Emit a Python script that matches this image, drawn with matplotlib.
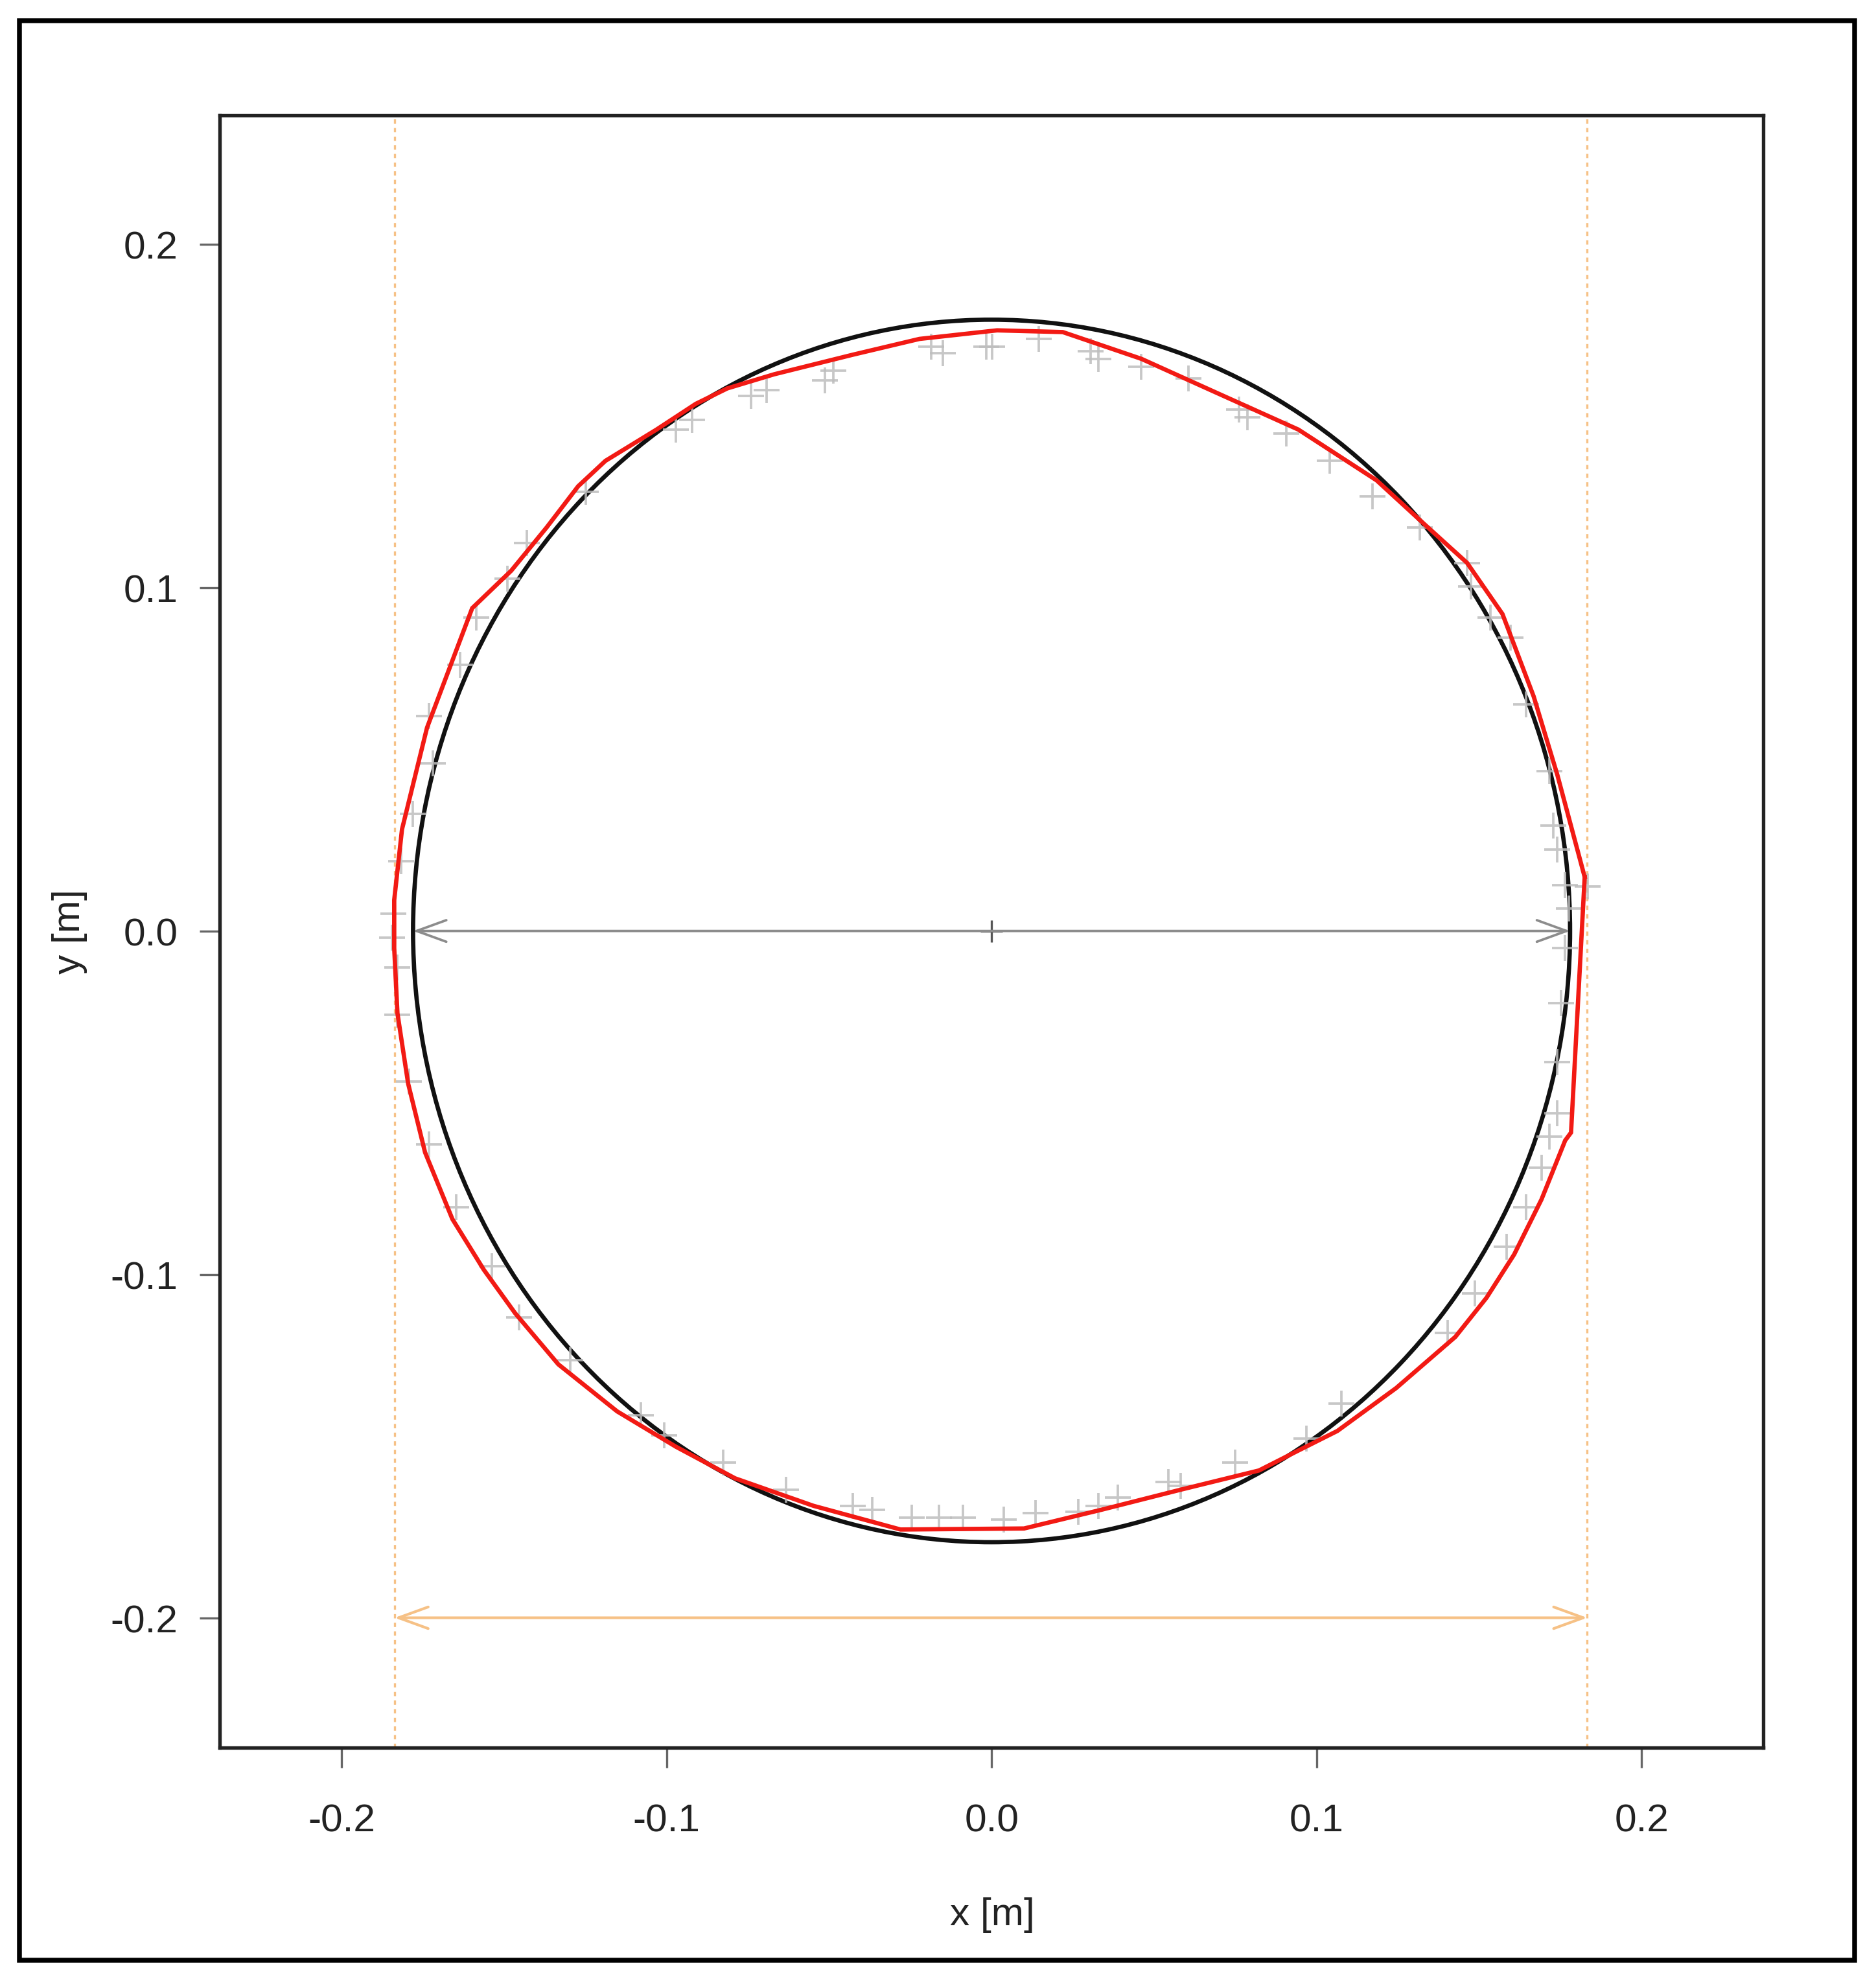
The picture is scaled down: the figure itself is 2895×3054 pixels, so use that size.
import matplotlib.pyplot as plt
import numpy as np
from matplotlib.patches import Circle, Rectangle

plt.rcParams['font.family'] = ['Liberation Sans', 'DejaVu Sans']

# measured points (gray crosses)
pts_x = [-0.0017, -0.0186, -0.0149, -0.0487, -0.0512, -0.0693, -0.0741, -0.0922, -0.0971,
         -0.1248, -0.1429, -0.1490, -0.1586, -0.1635, -0.1731, -0.1719, -0.1780, -0.1816,
         -0.1840, -0.1845,
         0.0002, 0.0146, 0.0304, 0.0328, 0.0461, 0.0606, 0.0762, 0.0787, 0.0907, 0.1040,
         0.1173, 0.1318, 0.1463, 0.1475, 0.1535, 0.1596, 0.1644, 0.1717, 0.1729, 0.1741,
         0.1765, 0.1777, 0.1835,
         0.1765, 0.1753, 0.1741, 0.1741, 0.1717, 0.1692, 0.1644, 0.1584, 0.1487, 0.1403,
         0.1076, 0.0968, 0.0750, 0.0581, 0.0545, 0.0388, 0.0328, 0.0267, 0.0135, 0.0038,
         -0.1828, -0.1828, -0.1792, -0.1731, -0.1647, -0.1538, -0.1454, -0.1297, -0.1079,
         -0.1007, -0.0826, -0.0633, -0.0427, -0.0367, -0.0246, -0.0161, -0.0089]
pts_y = [0.1701, 0.1701, 0.1683, 0.1632, 0.1603, 0.1575, 0.1558, 0.1489, 0.1460,
         0.1278, 0.1129, 0.1026, 0.0912, 0.0774, 0.0626, 0.0489, 0.0340, 0.0203,
         0.0050, -0.0020,
         0.1701, 0.1724, 0.1689, 0.1666, 0.1643, 0.1609, 0.1518, 0.1495, 0.1449, 0.1369,
         0.1266, 0.1175, 0.1072, 0.1003, 0.0912, 0.0854, 0.0660, 0.0466, 0.0306, 0.0237,
         0.0134, 0.0066, 0.0130,
         -0.0050, -0.0210, -0.0381, -0.0530, -0.0599, -0.0690, -0.0804, -0.0919, -0.1056, -0.1170,
         -0.1376, -0.1479, -0.1548, -0.1616, -0.1605, -0.1650, -0.1674, -0.1691, -0.1696, -0.1714,
         -0.0107, -0.0244, -0.0439, -0.0622, -0.0805, -0.0976, -0.1125, -0.1250, -0.1410,
         -0.1468, -0.1548, -0.1628, -0.1674, -0.1685, -0.1708, -0.1708, -0.1708]

# fitted contour (red polygon)
poly_x = [0.1825, 0.1741, 0.1668, 0.1572, 0.1463, 0.1330, 0.1185, 0.0944, 0.0702, 0.0461,
          0.0219, 0.0017, -0.0222, -0.0427, -0.0669, -0.0813, -0.0910, -0.1031, -0.1188, -0.1272,
          -0.1369, -0.1478, -0.1598, -0.1737, -0.1814, -0.1838, -0.1838, -0.1828, -0.1795, -0.1743,
          -0.1659, -0.1562, -0.1466, -0.1333, -0.1152, -0.0971, -0.0789, -0.0548, -0.0280, 0.0100,
          0.0340, 0.0582, 0.0823, 0.0944, 0.1064, 0.1245, 0.1427, 0.1523, 0.1608, 0.1692,
          0.1765, 0.1783]
poly_y = [0.0157, 0.0454, 0.0683, 0.0923, 0.1072, 0.1186, 0.1312, 0.1460, 0.1563, 0.1666,
          0.1744, 0.1749, 0.1724, 0.1678, 0.1621, 0.1580, 0.1535, 0.1460, 0.1369, 0.1295,
          0.1175, 0.1049, 0.0940, 0.0592, 0.0296, 0.0090, -0.0050, -0.0240, -0.0445, -0.0645,
          -0.0839, -0.0987, -0.1113, -0.1262, -0.1399, -0.1502, -0.1594, -0.1674, -0.1743, -0.1740,
          -0.1685, -0.1627, -0.1571, -0.1513, -0.1456, -0.1331, -0.1182, -0.1068, -0.0942, -0.0782,
          -0.0610, -0.0587]

# fitted circle
center = (0.0, 0.0)
radius = 0.178

# caliper width
cal_left = -0.1837
cal_right = 0.1833
cal_y = -0.2

ticks = [-0.2, -0.1, 0.0, 0.1, 0.2]
tick_labels = ['-0.2', '-0.1', '0.0', '0.1', '0.2']

fig = plt.figure(figsize=(9.65, 10.1833), dpi=300)
ax = fig.add_axes([0.1171, 0.1169, 0.8229, 0.8245])

orange = '#f6c186'
ax.axvline(cal_left, color=orange, lw=0.8, dashes=(2, 2))
ax.axvline(cal_right, color=orange, lw=0.8, dashes=(2, 2))
ax.annotate('', xy=(cal_right, cal_y), xytext=(cal_left, cal_y),
            arrowprops=dict(arrowstyle='<->,head_length=1.1,head_width=0.4',
                            color=orange, lw=1.0, shrinkA=0, shrinkB=0, mutation_scale=10))

ax.plot(pts_x, pts_y, '+', color='#bdbdbd', ms=9.5, mew=0.9, alpha=0.85)

px = poly_x + poly_x[:1]
py = poly_y + poly_y[:1]
ax.plot(px, py, color='#f21a14', lw=1.6, solid_joinstyle='miter')

ax.add_patch(Circle(center, radius, fill=False, edgecolor='#111111', lw=1.6))

ax.annotate('', xy=(center[0] + radius, center[1]), xytext=(center[0] - radius, center[1]),
            arrowprops=dict(arrowstyle='<->,head_length=1.1,head_width=0.4',
                            color='#8c8c8c', lw=0.9, shrinkA=0, shrinkB=0, mutation_scale=10))
ax.plot([center[0]], [center[1]], '+', color='#555555', ms=8, mew=0.8)

ax.set_xlim(-0.2375, 0.2375)
ax.set_ylim(-0.2378, 0.2375)
ax.set_xticks(ticks)
ax.set_xticklabels(tick_labels)
ax.set_yticks(ticks)
ax.set_yticklabels(tick_labels)
ax.tick_params(axis='both', length=7.5, width=0.8, color='#666666', labelcolor='#222222',
               labelsize=14.5)
ax.tick_params(axis='x', pad=13)
ax.tick_params(axis='y', pad=8)
for s in ax.spines.values():
    s.set_linewidth(1.3)
    s.set_color('#222222')

fig.text(0.5289, 0.0327, 'x [m]', ha='center', va='center', fontsize=14.5, color='#222222')
fig.text(0.0370, 0.5293, 'y [m]', ha='center', va='center', rotation=90, fontsize=14.5,
         color='#222222')

fig.patches.append(Rectangle((0.0104, 0.0095), 0.9782, 0.9797, transform=fig.transFigure,
                             fill=False, edgecolor='black', lw=1.8, zorder=10))

fig.savefig('out.png', dpi=300, facecolor='white')
